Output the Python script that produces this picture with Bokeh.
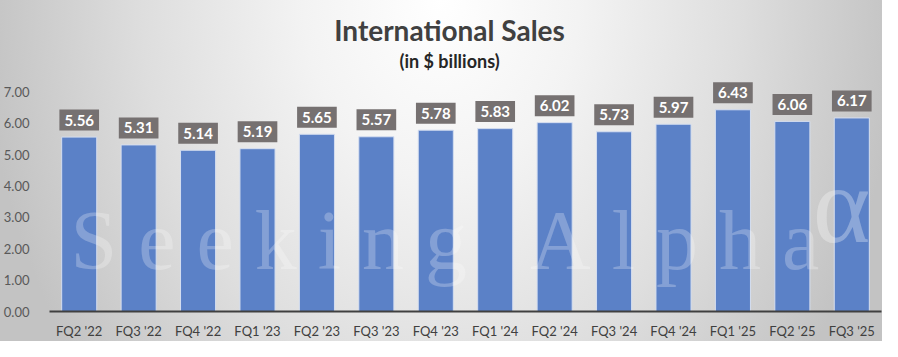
from bokeh.plotting import figure
from bokeh.models import ColumnDataSource, FixedTicker, NumeralTickFormatter, Label, Range1d, FactorRange
from bokeh.core.properties import value
from bokeh.embed import file_html
from bokeh.resources import INLINE

quarters = ["FQ2 '22", "FQ3 '22", "FQ4 '22", "FQ1 '23", "FQ2 '23", "FQ3 '23", "FQ4 '23",
            "FQ1 '24", "FQ2 '24", "FQ3 '24", "FQ4 '24", "FQ1 '25", "FQ2 '25", "FQ3 '25"]
sales = [5.56, 5.31, 5.14, 5.19, 5.65, 5.57, 5.78, 5.83, 6.02, 5.73, 5.97, 6.43, 6.06, 6.17]
labels = [f"{v:.2f}" for v in sales]
y_ticks = [0, 1, 2, 3, 4, 5, 6, 7]

FONT = "Lato"
W, H = 882, 341
AXIS_Y = 313
PX_PER_UNIT = (AXIS_Y - 92) / 7
FRAME_H = AXIS_Y

src = ColumnDataSource(dict(q=quarters, v=sales, lab=labels))

p = figure(width=W, height=H, x_range=FactorRange(*quarters, range_padding=0),
           y_range=Range1d(0, FRAME_H / PX_PER_UNIT),
           output_backend="svg", toolbar_location=None,
           min_border_left=47, min_border_right=1, min_border_top=0, min_border_bottom=H - FRAME_H)
p.background_fill_color = None
p.border_fill_color = None
p.outline_line_color = None
p.styles = {"background": "radial-gradient(ellipse 52% 175% at 50% 0%, #ffffff 0%, #f3f3f3 30%, #dedede 65%, #c3c3c3 100%)"}
p.grid.visible = False

p.vbar(x="q", top="v", width=0.59, source=src, fill_color="#5B81C7",
       line_color="#d5def0", line_width=1)

p.text(x="q", y="v", text="lab", source=src, text_align="center", text_baseline="middle",
       y_offset=-17, text_color="white", text_font=value(FONT), text_font_style="bold",
       text_font_size="15px", background_fill_color="#767171", padding=5)

# axes
p.yaxis.ticker = FixedTicker(ticks=y_ticks)
p.yaxis.formatter = NumeralTickFormatter(format="0.00")
p.yaxis.axis_line_color = None
p.yaxis.major_tick_line_color = None
p.yaxis.minor_tick_line_color = None
p.yaxis.major_label_standoff = 14
p.yaxis.major_label_text_font = FONT
p.yaxis.major_label_text_font_size = "13px"
p.yaxis.major_label_text_color = "#595959"

p.xaxis.axis_line_color = "#404040"
p.xaxis.axis_line_width = 2
p.xaxis.major_tick_line_color = None
p.xaxis.minor_tick_line_color = None
p.xaxis.major_label_standoff = 5
p.xaxis.major_label_text_font = FONT
p.xaxis.major_label_text_font_size = "13px"
p.xaxis.major_label_text_color = "#404040"

def ypos(Y):
    return (AXIS_Y - Y) / PX_PER_UNIT

def xpos(X):
    return (X - 47) / 59.57

NB = "\u00a0"
wm = NB.join("Seeking") + NB * 3 + NB.join("Alpha")

p.add_layout(Label(x=xpos(448), y=ypos(30), text="International Sales", text_align="center",
                   text_baseline="alphabetic", text_font=FONT, text_font_style="bold",
                   text_font_size="28px", text_color="#404040"))
p.add_layout(Label(x=xpos(448), y=ypos(61), text="(in $ billions)", text_align="center",
                   text_baseline="alphabetic", text_font=FONT, text_font_style="bold",
                   text_font_size="18px", text_color="#262626"))
p.add_layout(Label(x=xpos(68), y=ypos(242), text=wm, text_align="left",
                   text_baseline="alphabetic", text_font="Liberation Serif",
                   text_font_size="84px", text_color="white", text_alpha=0.25))
p.add_layout(Label(x=xpos(812), y=ypos(206), text="α", text_align="left",
                   text_baseline="alphabetic", text_font="Liberation Serif",
                   text_font_size="110px", text_color="white", text_alpha=0.3))

open("out.html", "w").write(file_html(p, INLINE))
